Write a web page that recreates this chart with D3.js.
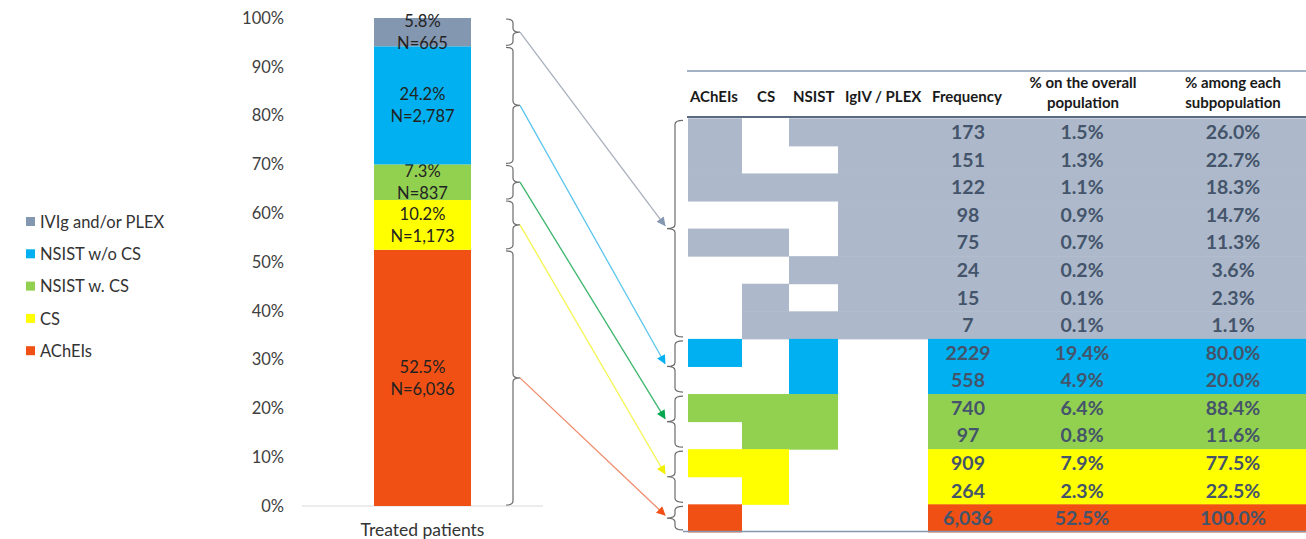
<html>
<head>
  <title>Treated patients</title>
  <script src="https://d3js.org/d3.v7.min.js"></script>
  <style>
    body { margin: 0; background: #fff; }
    text { font-family: Lato, "Open Sans", sans-serif; }
  </style>
</head>
<body>
<script>
// bar segments, bottom to top
var categories = ['AChEIs', 'CS', 'NSIST w. CS', 'NSIST w/o CS', 'IVIg and/or PLEX'];
var barPct = [52.5, 10.2, 7.3, 24.2, 5.8];
var barN = ['6,036', '1,173', '837', '2,787', '665'];
var colors = ['#f05014', '#ffff00', '#92d050', '#00b0f0', '#8497b0'];
var tableColors = ['#f05014', '#ffff00', '#92d050', '#00b0f0', '#adb9ca'];
var yTicks = [0, 10, 20, 30, 40, 50, 60, 70, 80, 90, 100];

// table rows
var tableHeaders = ['AChEIs', 'CS', 'NSIST', 'IgIV / PLEX', 'Frequency'];
var freq = ['173', '151', '122', '98', '75', '24', '15', '7', '2229', '558', '740', '97', '909', '264', '6,036'];
var pctOverall = ['1.5%', '1.3%', '1.1%', '0.9%', '0.7%', '0.2%', '0.1%', '0.1%', '19.4%', '4.9%', '6.4%', '0.8%', '7.9%', '2.3%', '52.5%'];
var pctSub = ['26.0%', '22.7%', '18.3%', '14.7%', '11.3%', '3.6%', '2.3%', '1.1%', '80.0%', '20.0%', '88.4%', '11.6%', '77.5%', '22.5%', '100.0%'];
var rowGroup = [4, 4, 4, 4, 4, 4, 4, 4, 3, 3, 2, 2, 1, 1, 0];
var useAChEI = [1, 1, 1, 0, 1, 0, 0, 0, 1, 0, 1, 0, 1, 0, 1];
var useCS    = [0, 0, 1, 0, 1, 0, 1, 1, 0, 0, 1, 1, 1, 1, 0];
var useNSIST = [1, 0, 1, 0, 0, 1, 0, 1, 1, 1, 1, 1, 0, 0, 0];
var useIgIV  = [1, 1, 1, 1, 1, 1, 1, 1, 0, 0, 0, 0, 0, 0, 0];

var arrowColors = ['#f08a6a', '#f5f550', '#3cb56c', '#5cc6ee', '#a9b0bd'];
var arrowHeads = ['#f05014', '#f0f000', '#00a850', '#00b0f0', '#8497b0'];

var width = 1306, height = 539;
var svg = d3.select('body').append('svg').attr('width', width).attr('height', height);

// ---- bar chart ----
var y = d3.scaleLinear().domain([0, 100]).range([506, 18]);
var x = d3.scaleBand().domain(['Treated patients']).range([302, 543]).padding(0.426);

var stack = [];
var acc = 0;
barPct.forEach(function(v, i) {
  stack.push({i: i, y0: acc, y1: acc + v});
  acc += v;
});

svg.append('line')
  .attr('x1', 302).attr('x2', 543).attr('y1', y(0)).attr('y2', y(0))
  .attr('stroke', '#d9d9d9').attr('stroke-width', 1.2);

svg.append('g').selectAll('text').data(yTicks).enter().append('text')
  .attr('x', 284).attr('y', d => y(d)).attr('dy', '0.35em')
  .attr('text-anchor', 'end').attr('font-size', 16.5).attr('fill', '#404040')
  .text(d => d + '%');

svg.append('text').attr('x', x('Treated patients') + x.bandwidth() / 2).attr('y', 536)
  .attr('text-anchor', 'middle').attr('font-size', 17.5).attr('fill', '#333')
  .text('Treated patients');

var seg = svg.append('g').selectAll('g').data(stack).enter().append('g');
seg.append('rect')
  .attr('x', x('Treated patients')).attr('width', x.bandwidth())
  .attr('y', d => y(d.y1)).attr('height', d => y(d.y0) - y(d.y1))
  .attr('fill', d => colors[d.i]);
seg.append('text')
  .attr('x', x('Treated patients') + x.bandwidth() / 2)
  .attr('y', d => (y(d.y0) + y(d.y1)) / 2 - 11).attr('dy', '0.35em')
  .attr('text-anchor', 'middle').attr('font-size', 16.5).attr('fill', '#222')
  .text(d => barPct[d.i].toFixed(1) + '%');
seg.append('text')
  .attr('x', x('Treated patients') + x.bandwidth() / 2)
  .attr('y', d => (y(d.y0) + y(d.y1)) / 2 + 11).attr('dy', '0.35em')
  .attr('text-anchor', 'middle').attr('font-size', 16.5).attr('fill', '#222')
  .text(d => 'N=' + barN[d.i]);

// legend (top to bottom reversed)
var legendOrder = d3.range(categories.length).reverse();
var leg = svg.append('g').selectAll('g').data(legendOrder).enter().append('g')
  .attr('transform', (d, k) => 'translate(26,' + (222 + k * 32.3) + ')');
leg.append('rect').attr('x', 0).attr('y', -5).attr('width', 9).attr('height', 9)
  .attr('fill', d => colors[d]);
leg.append('text').attr('x', 14).attr('dy', '0.35em').attr('font-size', 16.5)
  .attr('fill', '#333').text(d => categories[d]);

// ---- table ----
var rows = d3.range(freq.length);
var r = d3.scaleBand().domain(rows).range([118.3, 531.9]);
var colEdges = [688, 742, 789, 838, 928, 1306];
var flags = [useAChEI, useCS, useNSIST, useIgIV];

var tbl = svg.append('g');
rows.forEach(function(i) {
  var c = tableColors[rowGroup[i]];
  flags.forEach(function(f, k) {
    if (f[i]) {
      tbl.append('rect').attr('x', colEdges[k]).attr('width', colEdges[k + 1] - colEdges[k])
        .attr('y', r(i)).attr('height', r.bandwidth() + 0.5).attr('fill', c);
    }
  });
  tbl.append('rect').attr('x', colEdges[4]).attr('width', colEdges[5] - colEdges[4])
    .attr('y', r(i)).attr('height', r.bandwidth() + 0.5).attr('fill', c);
});

var cellText = [[freq, 968], [pctOverall, 1082], [pctSub, 1233]];
cellText.forEach(function(ct) {
  tbl.append('g').selectAll('text').data(rows).enter().append('text')
    .attr('x', ct[1]).attr('y', d => r(d) + r.bandwidth() / 2).attr('dy', '0.36em')
    .attr('text-anchor', 'middle').attr('font-size', 19.5).attr('font-weight', 'bold')
    .attr('fill', '#44546a').text(d => ct[0][d]);
});

// header
var headX = [690, 757, 793, 845, 932];
svg.append('g').selectAll('text').data(tableHeaders).enter().append('text')
  .attr('x', (d, i) => headX[i]).attr('y', 97).attr('dy', '0.35em')
  .attr('font-size', 15).attr('font-weight', 'bold').attr('fill', '#1a1a1a')
  .text(d => d);
[['% on the overall', 'population', 1083], ['% among each', 'subpopulation', 1233]].forEach(function(h) {
  svg.append('text').attr('x', h[2]).attr('y', 83).attr('dy', '0.35em').attr('text-anchor', 'middle')
    .attr('font-size', 15).attr('font-weight', 'bold').attr('fill', '#1a1a1a').text(h[0]);
  svg.append('text').attr('x', h[2]).attr('y', 103).attr('dy', '0.35em').attr('text-anchor', 'middle')
    .attr('font-size', 15).attr('font-weight', 'bold').attr('fill', '#1a1a1a').text(h[1]);
});
svg.append('line').attr('x1', 687).attr('x2', 1306).attr('y1', 71).attr('y2', 71)
  .attr('stroke', '#8497b0').attr('stroke-width', 1.5);
svg.append('line').attr('x1', 687).attr('x2', 1306).attr('y1', 117).attr('y2', 117)
  .attr('stroke', '#5a6a80').attr('stroke-width', 2);
svg.append('line').attr('x1', 683).attr('x2', 1306).attr('y1', 531.5).attr('y2', 531.5)
  .attr('stroke', '#8497b0').attr('stroke-width', 1.5);

// ---- braces and arrows ----
function brace(x0, y1, y2, w) {
  var m = (y1 + y2) / 2, q = Math.min(4, (y2 - y1) / 4);
  return 'M' + (x0 - w) + ',' + y1 + ' Q' + x0 + ',' + y1 + ' ' + x0 + ',' + (y1 + q) +
    ' L' + x0 + ',' + (m - q) + ' Q' + x0 + ',' + m + ' ' + (x0 + w) + ',' + m +
    ' Q' + x0 + ',' + m + ' ' + x0 + ',' + (m + q) +
    ' L' + x0 + ',' + (y2 - q) + ' Q' + x0 + ',' + y2 + ' ' + (x0 - w) + ',' + y2;
}

var defs = svg.append('defs');
arrowHeads.forEach(function(c, i) {
  defs.append('marker').attr('id', 'ah' + i).attr('viewBox', '0 0 10 10')
    .attr('refX', 9).attr('refY', 5).attr('markerWidth', 10).attr('markerHeight', 9)
    .attr('markerUnits', 'userSpaceOnUse').attr('orient', 'auto')
    .append('path').attr('d', 'M0,0 L10,5 L0,10 Z').attr('fill', c);
});

var groups = d3.range(categories.length);
var bx = 513, tx = 675;
groups.forEach(function(g) {
  var s = stack[g];
  var ya = y(s.y1) + 1, yb = y(s.y0) - 1;
  svg.append('path').attr('d', brace(bx, ya, yb, 7)).attr('fill', 'none')
    .attr('stroke', '#6b6b6b').attr('stroke-width', 1.2);

  var gr = rows.filter(i => rowGroup[i] === g);
  var ta = r(gr[0]) + 2, tb = r(gr[gr.length - 1]) + r.bandwidth() - 2;
  svg.append('path').attr('d', brace(tx, ta, tb, -8)).attr('fill', 'none')
    .attr('stroke', '#6b6b6b').attr('stroke-width', 1.2);

  svg.append('line')
    .attr('x1', bx + 7).attr('y1', (ya + yb) / 2)
    .attr('x2', tx - 10).attr('y2', (ta + tb) / 2 - 3)
    .attr('stroke', arrowColors[g]).attr('stroke-width', 1.3)
    .attr('marker-end', 'url(#ah' + g + ')');
});
</script>
</body>
</html>
